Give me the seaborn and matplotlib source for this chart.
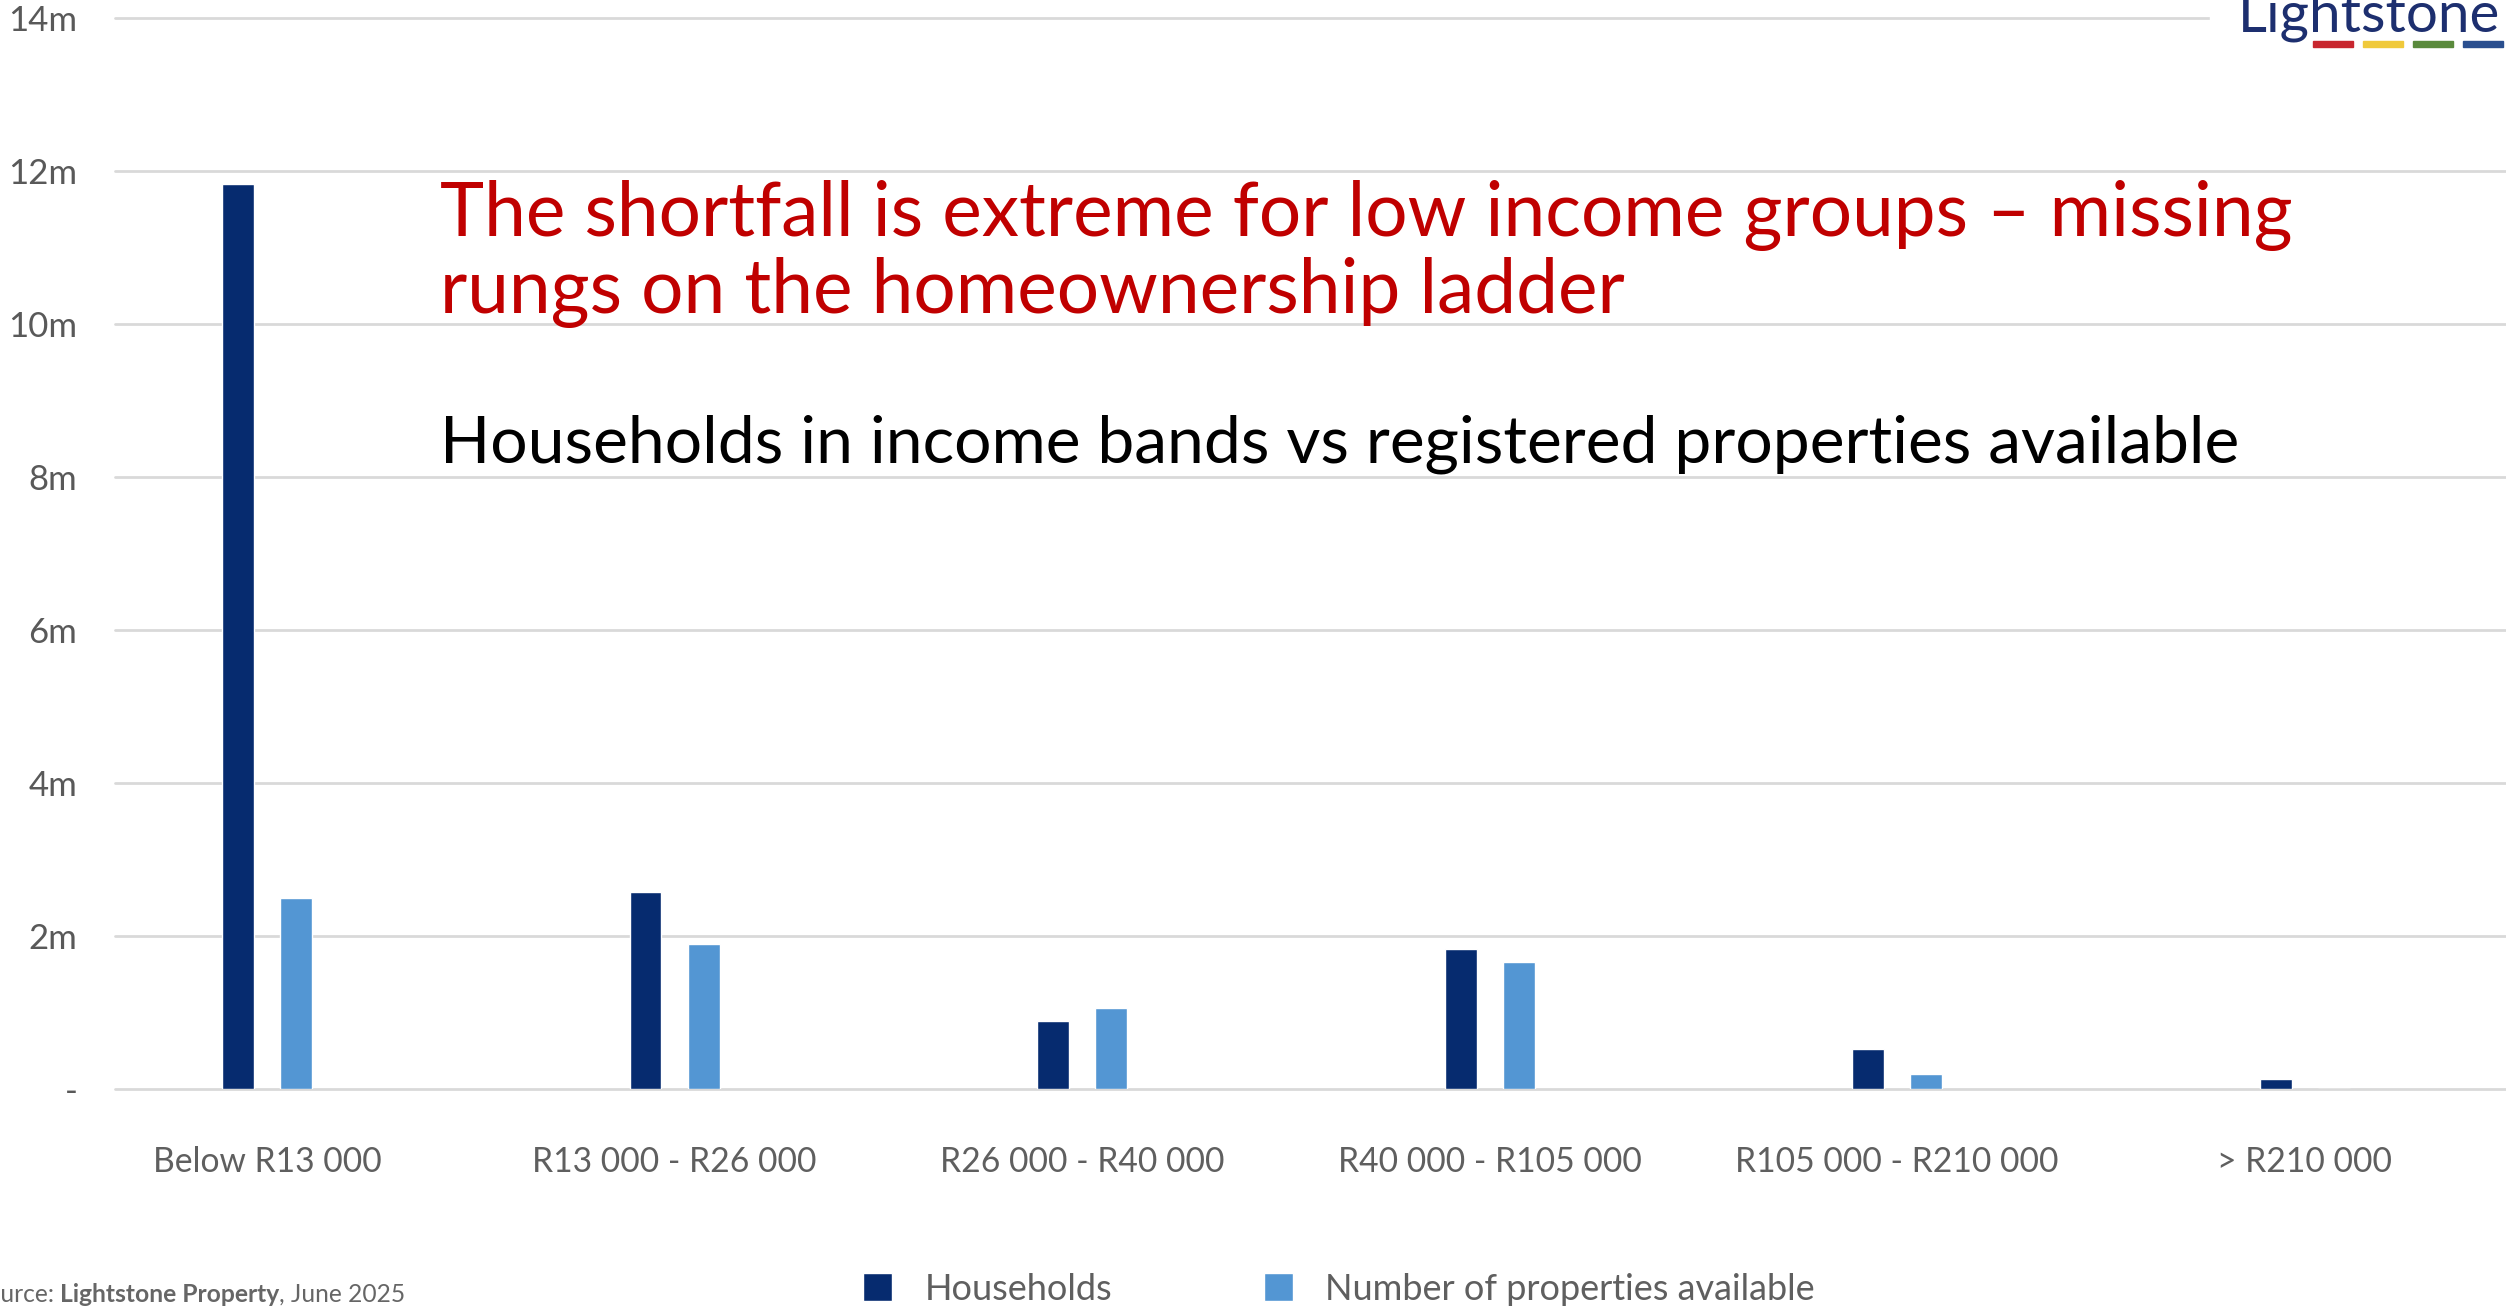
import numpy as np
import pandas as pd
import seaborn as sns
import matplotlib.pyplot as plt
from matplotlib.patches import Patch, Rectangle

# ---------------- data ----------------
bands = ["Below R13 000", "R13 000 - R26 000", "R26 000 - R40 000",
         "R40 000 - R105 000", "R105 000 - R210 000", "> R210 000"]
households_m = [11.83, 2.57, 0.89, 1.83, 0.52, 0.13]
properties_m = [2.50, 1.90, 1.06, 1.66, 0.20, 0.0]
series_names = ["Households", "Number of properties available"]
y_tick_values_m = [0, 2, 4, 6, 8, 10, 12, 14]
y_tick_labels = ["-", "2m", "4m", "6m", "8m", "10m", "12m", "14m"]

title_lines = ["The shortfall is extreme for low income groups \u2013 missing",
               "rungs on the homeownership ladder"]
subtitle = "Households in income bands vs registered properties available"

df = pd.DataFrame({
    "band": bands * 2,
    "series": [series_names[0]] * len(bands) + [series_names[1]] * len(bands),
    "value": [v * 1e6 for v in households_m] + [v * 1e6 for v in properties_m],
})

DARK = "#062b6f"
LIGHT = "#5396d3"
W, H = 2506, 1309

sns.set_theme(style="white")
plt.rcParams["font.family"] = ["Lato", "DejaVu Sans"]

fig = plt.figure(figsize=(W / 100, H / 100), dpi=100)
fig.patch.set_facecolor("white")
ax = fig.add_axes([115 / W, 1 - 1089 / H, 1 - 115 / W, (1089 - 18) / H])

sns.barplot(data=df, x="band", y="value", hue="series", hue_order=series_names,
            palette=[DARK, LIGHT], width=0.285, gap=0.45, saturation=1,
            errorbar=None, legend=False, ax=ax)

ax.set_xlim(-0.373, 5.494)
ax.set_ylim(0, 14e6)
ax.set_yticks([v * 1e6 for v in y_tick_values_m])
ax.set_yticklabels(y_tick_labels)
ax.yaxis.grid(True, color="#d9d9d9", lw=2)
ax.xaxis.grid(False)
ax.set_axisbelow(True)
for s in ax.spines.values():
    s.set_visible(False)
ax.set_xlabel("")
ax.set_ylabel("")
ax.tick_params(axis="y", length=0, pad=27, labelsize=25, labelcolor="#595959")
ax.tick_params(axis="x", length=0, pad=41, labelsize=24.2, labelcolor="#5f5f5f")
for gl in ax.get_ygridlines():
    gl.set_clip_on(False)

renderer = fig.canvas.get_renderer()


def fit(t, target_px):
    bb = t.get_window_extent(renderer)
    t.set_fontsize(t.get_fontsize() * target_px / bb.width)


# ---------------- titles ----------------
t1 = fig.text(440 / W, 1 - 236 / H, title_lines[0], color="#c00000",
              fontsize=50, va="baseline", ha="left")
fit(t1, 1852)
t2 = fig.text(440 / W, 1 - 313 / H, title_lines[1], color="#c00000",
              fontsize=t1.get_fontsize(), va="baseline", ha="left")
t3 = fig.text(440 / W, 1 - 463 / H, subtitle, color="black",
              fontsize=44, va="baseline", ha="left")
fit(t3, 1804)

# ---------------- logo ----------------
fig.patches.append(Rectangle((2210 / W, 1 - 62 / H), 296 / W, 62 / H,
                             transform=fig.transFigure, color="white", zorder=2))
logo = fig.text(2500 / W, 1 - 32 / H, "Lightstone", color="#1d2f6f",
                fontsize=34, va="baseline", ha="right", zorder=3)
fit(logo, 262)
for x0, c in zip([2313, 2363, 2413, 2463], ["#c8262e", "#f0c93a", "#5a8a3c", "#2a4f8f"]):
    fig.patches.append(Rectangle((x0 / W, 1 - 47 / H), 40 / W, 6 / H,
                                 transform=fig.transFigure, color=c, zorder=3))

# ---------------- legend ----------------
handles = [Patch(facecolor=DARK), Patch(facecolor=LIGHT)]
leg = fig.legend(handles, series_names, loc="center left",
                 bbox_to_anchor=(863 / W, 1 - 1289 / H), ncol=2, frameon=False,
                 fontsize=26, handlelength=0.8, handleheight=0.8,
                 handletextpad=0.9, columnspacing=4.2, borderpad=0,
                 borderaxespad=0)
for txt in leg.get_texts():
    txt.set_color("#5f5f5f")

# ---------------- source ----------------
src_y = 1 - 1302 / H
SRC_FS = 17.7
parts = [("Source: ", "normal"), ("Lightstone Property", "bold"), (", June 2025", "normal")]
probe = fig.text(0, src_y, "So", fontsize=SRC_FS)
wprobe = probe.get_window_extent(renderer).width
probe.remove()
x = -wprobe
for s, wgt in parts:
    t = fig.text(x / W, src_y, s, fontsize=SRC_FS, fontweight=wgt, color="#666666",
                 va="baseline", ha="left")
    x += t.get_window_extent(renderer).width

fig.savefig("out.png", dpi=100)
